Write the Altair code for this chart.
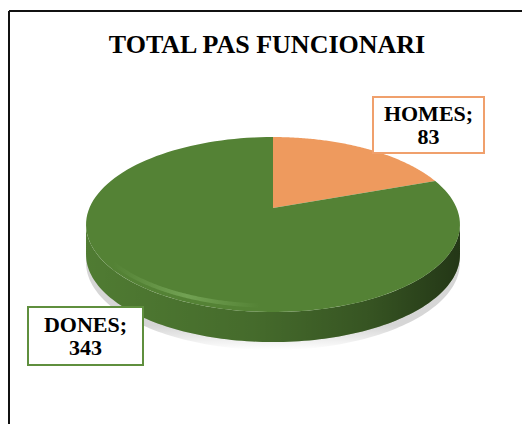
import math
import altair as alt
import pandas as pd

# ---- data ----
title_text = "TOTAL PAS FUNCIONARI"
categories = ["HOMES", "DONES"]
values = [83, 343]

# ---- style / layout ----
slice_colors = ["#EE9A5E", "#548235"]
box_colors = ["#F0A06C", "#5F8F3E"]
FONT = "Liberation Serif"
W, H = 513, 413
CX, CY = 264, 197          # projected centre of the pie top
A, B, K = 183.6, 84.4, 0.189  # ellipse radii + perspective factor
D = 30                      # thickness of the 3D side
N = 120
label_boxes = {
    "HOMES": dict(x=364, x2=475, y=86, y2=142, tx=419.5, ty=110),
    "DONES": dict(x=19, x2=134, y=296, y2=354, tx=76.5, ty=321),
}

df = pd.DataFrame({"cat": categories, "val": values})
df["end"] = df["val"].cumsum()
df["start"] = df["end"] - df["val"]
df["total"] = df["val"].sum()

xs = alt.Scale(domain=[0, W], range=[0, W])
ys = alt.Scale(domain=[0, H], range=[0, H])
col = alt.Color("cat:N", scale=alt.Scale(domain=categories, range=slice_colors), legend=None)

PX = f"{CX} + {A}*sin(datum.ang)/(1 + {K}*cos(datum.ang))"
PY = f"{CY} - {B}*cos(datum.ang)/(1 + {K}*cos(datum.ang))"

thL = math.acos(-K)            # right extreme (angle clockwise from top)
thR = 2 * math.pi - thL        # left extreme

base = alt.Chart(df)
X = alt.X("px:Q", scale=xs, axis=None)
Y = alt.Y("py:Q", scale=ys, axis=None)

# top surface slices
top = (
    base.transform_calculate(seq=f"sequence(0, {N + 2})")
    .transform_flatten(["seq"])
    .transform_calculate(
        ang=f"2*PI*(datum.start + (datum.end - datum.start)*max(datum.seq-1,0)/{N})/datum.total",
        px=f"datum.seq == 0 ? {CX} : " + PX,
        py=f"datum.seq == 0 ? {CY} : " + PY,
    )
    .mark_line(filled=True, strokeWidth=0.6)
    .encode(x=X, y=Y, order=alt.Order("seq:Q"), detail="cat:N", color=col)
)

# soft shadow under the pie
shadow = (
    alt.Chart(alt.sequence(0, N + 1, as_="seq"))
    .transform_calculate(
        ang=f"{thL} + ({thR} - {thL})*datum.seq/{N}",
        px=PX,
        py=f"{PY} + {D} - 3",
        py2=f"datum.py + 11",
    )
    .mark_area(
        color=alt.Gradient(
            gradient="linear",
            stops=[
                alt.GradientStop(color="rgba(0,0,0,0.16)", offset=0),
                alt.GradientStop(color="rgba(0,0,0,0.0)", offset=1),
            ],
            x1=0, x2=0, y1=0.75, y2=1,
        )
    )
    .encode(x=X, y=Y, y2="py2:Q")
)

# side of the cylinder, per slice
side = (
    base.transform_calculate(
        a0=f"max(2*PI*datum.start/datum.total, {thL})",
        a1=f"min(2*PI*datum.end/datum.total, {thR})",
    )
    .transform_filter("datum.a1 > datum.a0")
    .transform_calculate(seq=f"sequence(0, {N + 1})")
    .transform_flatten(["seq"])
    .transform_calculate(
        ang=f"datum.a0 + (datum.a1 - datum.a0)*datum.seq/{N}",
        px=PX,
        py=PY,
        py2=f"datum.py + {D}",
    )
    .mark_area()
    .encode(x=X, y=Y, y2="py2:Q", detail="cat:N", color=col)
)

# shading of the side
shade = (
    alt.Chart(alt.sequence(0, N + 1, as_="seq"))
    .transform_calculate(
        ang=f"{thL} + ({thR} - {thL})*datum.seq/{N}",
        px=PX,
        py=PY,
        py2=f"datum.py + {D}",
    )
    .mark_area(
        color=alt.Gradient(
            gradient="linear",
            stops=[
                alt.GradientStop(color="rgba(0,0,0,0.05)", offset=0),
                alt.GradientStop(color="rgba(0,0,0,0.18)", offset=0.45),
                alt.GradientStop(color="rgba(0,0,0,0.35)", offset=0.75),
                alt.GradientStop(color="rgba(0,0,0,0.58)", offset=1),
            ],
            x1=0, x2=1, y1=0, y2=0,
        )
    )
    .encode(x=X, y=Y, y2="py2:Q")
)

# rim highlight on the near-left edge of the top
rim = (
    alt.Chart(alt.sequence(0, N + 1, as_="seq"))
    .transform_calculate(
        ang=f"3.2 + 0.85*datum.seq/{N}",
        px=f"{CX} + 0.975*{A}*sin(datum.ang)/(1 + {K}*cos(datum.ang))",
        py=f"{CY} - 0.94*{B}*cos(datum.ang)/(1 + {K}*cos(datum.ang))",
    )
    .mark_line(
        strokeWidth=4, opacity=0.45,
        color=alt.Gradient(
            gradient="linear",
            stops=[
                alt.GradientStop(color="rgba(150,200,120,0)", offset=0),
                alt.GradientStop(color="rgba(150,200,120,1)", offset=0.5),
                alt.GradientStop(color="rgba(150,200,120,0)", offset=1),
            ],
            x1=0, x2=1, y1=0, y2=0,
        ),
    )
    .encode(x=X, y=Y, order="seq:Q")
)

# frame (left + top edges visible)
frame_data = alt.Chart(pd.DataFrame({"f": [0]}))
frame_top = frame_data.mark_rule(color="#111111", strokeWidth=2).encode(
    x=alt.value(0), x2=alt.value(W), y=alt.value(0)
)
frame_left = frame_data.mark_rule(color="#111111", strokeWidth=2).encode(
    x=alt.value(0), y=alt.value(0), y2=alt.value(H)
)

title = alt.Chart(pd.DataFrame({"t": [title_text]})).mark_text(
    font=FONT, fontWeight="bold", fontSize=26, color="#000000",
    align="center", baseline="alphabetic",
).encode(text="t:N", x=alt.value(258), y=alt.value(42))

layers = [frame_top, frame_left, shadow, side, shade, top, rim, title]
for cat, bcol in zip(categories, box_colors):
    b = label_boxes[cat]
    sub = base.transform_filter(alt.datum.cat == cat)
    layers.append(
        sub.mark_rect(fill="white", stroke=bcol, strokeWidth=2).encode(
            x=alt.value(b["x"]), x2=alt.value(b["x2"]),
            y=alt.value(b["y"]), y2=alt.value(b["y2"]),
        )
    )
    layers.append(
        sub.transform_calculate(lab="datum.cat + ';|' + datum.val")
        .mark_text(
            font=FONT, fontWeight="bold", fontSize=22, lineBreak="|",
            lineHeight=23, align="center", baseline="alphabetic", color="#000000",
        )
        .encode(text="lab:N", x=alt.value(b["tx"]), y=alt.value(b["ty"]))
    )

chart = (
    alt.layer(*layers)
    .properties(
        width=W, height=H,
        autosize=alt.AutoSizeParams(type="none"),
        padding={"left": 1, "top": 3, "right": 0, "bottom": 0},
        background="white",
    )
    .configure_view(stroke=None)
)

chart.save("out.html", embed_options={"renderer": "svg", "actions": False})
